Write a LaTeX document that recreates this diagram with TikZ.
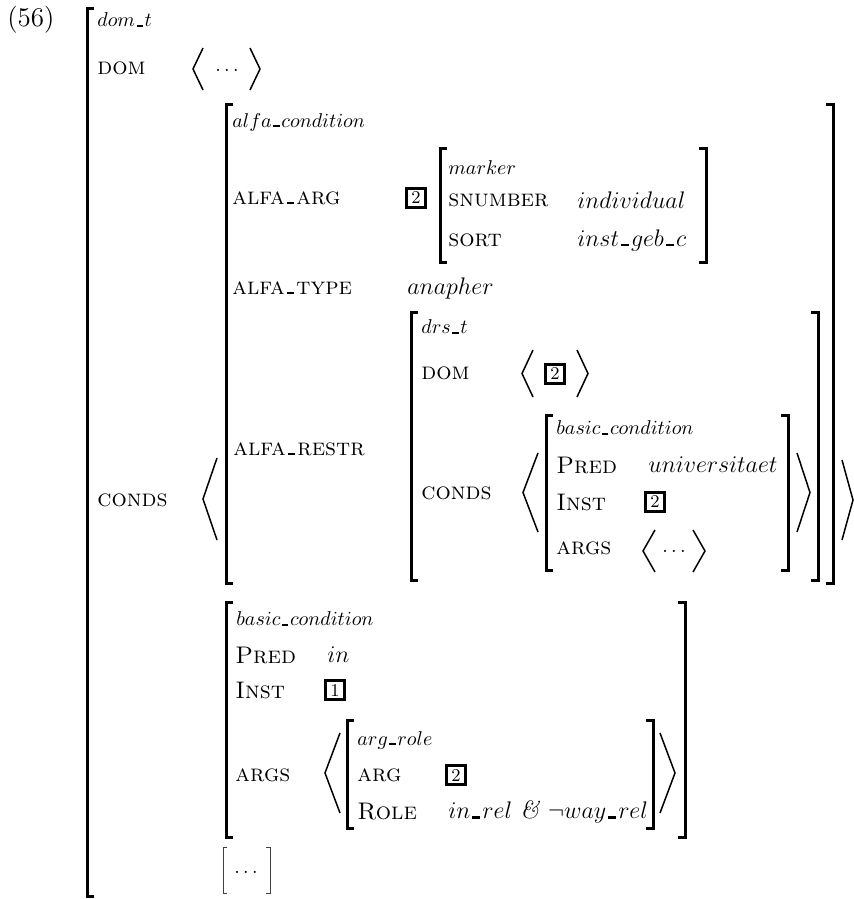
\documentclass[tikz,border=0pt]{standalone}
\newcommand{\us}{\kern0.08em\rule{0.32em}{0.09em}\kern0.08em}
\newcommand{\brl}[3]{\draw[brk] ({#1+7},#2) -- (#1,#2) -- (#1,#3) -- ({#1+7},#3);}
\newcommand{\brr}[3]{\draw[brk] ({#1-7},#2) -- (#1,#2) -- (#1,#3) -- ({#1-7},#3);}
\newcommand{\angbr}[4]{\draw[ang] (#2,#3) -- (#1,{(#3+#4)/2}) -- (#2,#4);}
\begin{document}
\begin{tikzpicture}[x=0.5pt,y=-0.5pt,
  feat/.style={anchor=west,inner sep=0pt,font=\fontsize{12}{14}\selectfont\scshape},
  typ/.style={anchor=west,inner sep=0pt,font=\fontsize{10}{12}\selectfont},
  val/.style={anchor=west,inner sep=0pt,font=\fontsize{12.5}{14}\selectfont},
  tagbox/.style={draw,line width=1.2pt,inner sep=0pt,minimum width=9.5pt,minimum height=9.5pt,font=\small},
  brk/.style={line width=1.5pt},
  thinbrk/.style={line width=0.5pt,black!75},
  ang/.style={line width=0.75pt}]
\useasboundingbox (0,0) rectangle (854,899);
\node[anchor=west,inner sep=0pt,font=\fontsize{13.5}{15}\selectfont] (ex) at (7,20) {(56)};

% dom_t
\brl{87}{9}{896}
\node[typ] (domt) at (97,20) {$dom\us t$};
\node[feat] (dom1) at (97,68) {dom};
\angbr{193}{203}{48}{90}
\node (dots1) at (227,70) {$\ldots$};
\angbr{260}{250}{48}{90}
\node[feat] (conds1) at (97,500) {conds};
\angbr{203}{217}{458}{540}
\angbr{853}{842}{460}{540}

% alfa_condition
\brl{226}{105}{583}
\brr{833}{105}{583}
\node[typ] (alfacond) at (232,122) {$alfa\us condition$};
\node[feat] (alfaarg) at (232,198) {alfa\us arg};
\node[tagbox] (tag2a) at (416,198) {2};
\brl{440}{148}{262}
\brr{706}{148}{262}
\node[typ] (marker) at (448,168) {$marker$};
\node[feat] (snumber) at (448,200) {snumber};
\node[val] (individual) at (577,200) {$individual$};
\node[feat] (sort) at (448,240) {sort};
\node[val] (instgeb) at (577,240) {$inst\us geb\us c$};
\node[feat] (alfatype) at (232,288) {alfa\us type};
\node[val] (anapher) at (407,288) {$anapher$};
\node[feat] (alfarestr) at (233,449) {alfa\us restr};

% drs_t
\brl{411}{312}{580}
\brr{818}{312}{580}
\node[typ] (drst) at (421,327) {$drs\us t$};
\node[feat] (dom2) at (421,373) {dom};
\angbr{522}{533}{350}{397}
\node[tagbox] (tag2b) at (555,374) {2};
\angbr{588}{577}{350}{397}
\node[feat] (conds2) at (421,493) {conds};
\angbr{523}{538}{453}{532}
\angbr{810}{797}{453}{532}

% basic_condition (universitaet)
\brl{546}{415}{570}
\brr{788}{415}{570}
\node[typ] (basic1) at (556,428) {$basic\us condition$};
\node[feat] (pred1) at (556,465) {Pred};
\node[val] (univ) at (648,465) {$universitaet$};
\node[feat] (inst1) at (556,502) {Inst};
\node[tagbox] (tag2c) at (655,502) {2};
\node[feat] (args1) at (556,548) {args};
\angbr{643}{655}{530}{572}
\node (dots2) at (674,551) {$\ldots$};
\angbr{705}{693}{530}{572}

% basic_condition (in)
\brl{226}{602}{837}
\brr{685}{602}{837}
\node[typ] (basic2) at (236,619) {$basic\us condition$};
\node[feat] (pred2) at (235,655) {Pred};
\node[val] (in) at (327,655) {$in$};
\node[feat] (inst2) at (235,690) {Inst};
\node[tagbox] (tag1) at (335,690) {1};
\node[feat] (args2) at (235,775) {args};
\angbr{325}{340}{733}{813}
\angbr{675}{660}{733}{813}

% arg_role
\brl{347}{720}{828}
\brr{653}{720}{828}
\node[typ] (argrole) at (357,740) {$arg\us role$};
\node[feat] (arg) at (357,775) {arg};
\node[tagbox] (tag2d) at (456,775) {2};
\node[feat] (role) at (357,812) {Role};
\node[val] (inrel) at (448,812) {$in\us rel$ \textit{\&} $\neg way\us rel$};

% [...]
\draw[thinbrk] (227,847) -- (223,847) -- (223,893) -- (227,893);
\node (dots3) at (246,872) {$\ldots$};
\draw[thinbrk] (266,847) -- (270,847) -- (270,893) -- (266,893);
\end{tikzpicture}
\end{document}
